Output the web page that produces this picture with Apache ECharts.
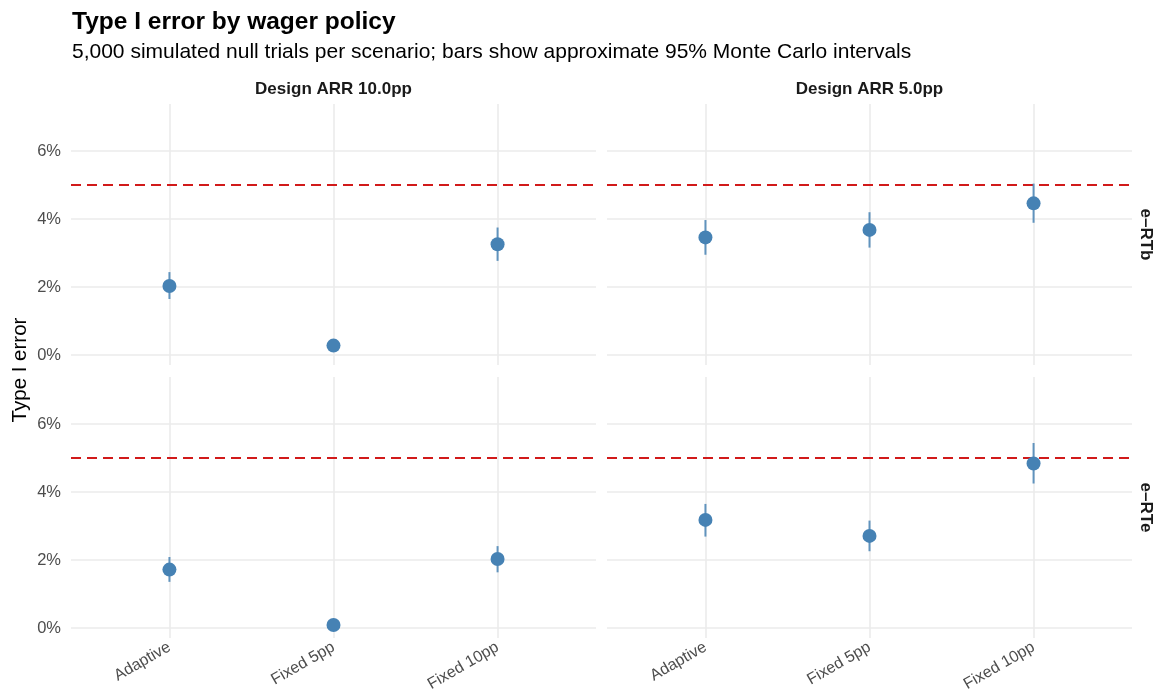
<!DOCTYPE html>
<html>
<head>
<meta charset="utf-8">
<script src="https://cdn.jsdelivr.net/npm/echarts@6/dist/echarts.min.js"></script>
<style>
  html, body { margin: 0; padding: 0; background: #fff; }
  #chart { width: 1157px; height: 700px; }
</style>
</head>
<body>
<div id="chart"></div>
<script>
const policies = ['Adaptive', 'Fixed 5pp', 'Fixed 10pp'];
const designs = ['Design ARR 10.0pp', 'Design ARR 5.0pp'];
const rules = ['e–RTb', 'e–RTe'];
const yTicks = [0, 2, 4, 6];
const alphaLevel = 5;

// type I error (%) with approx 95% MC interval, in policy order
const rtbArr10 = [2.03, 0.28, 3.26];
const rtbArr10Lo = [1.65, 0.14, 2.77];
const rtbArr10Hi = [2.44, 0.42, 3.75];
const rtbArr5 = [3.46, 3.68, 4.46];
const rtbArr5Lo = [2.95, 3.16, 3.89];
const rtbArr5Hi = [3.97, 4.20, 5.04];
const rteArr10 = [1.72, 0.09, 2.03];
const rteArr10Lo = [1.36, 0.01, 1.64];
const rteArr10Hi = [2.09, 0.17, 2.41];
const rteArr5 = [3.18, 2.71, 4.84];
const rteArr5Lo = [2.69, 2.26, 4.25];
const rteArr5Hi = [3.65, 3.16, 5.44];

const panels = [
  { est: rtbArr10, lo: rtbArr10Lo, hi: rtbArr10Hi },
  { est: rtbArr5, lo: rtbArr5Lo, hi: rtbArr5Hi },
  { est: rteArr10, lo: rteArr10Lo, hi: rteArr10Hi },
  { est: rteArr5, lo: rteArr5Lo, hi: rteArr5Hi }
];

const FONT = '"Liberation Sans", Arial, Helvetica, sans-serif';
const BLUE = '#4682B4';
const lefts = [71, 607], tops = [104, 377];
const W = 525, H = 261;

const grid = [], xAxis = [], yAxis = [], series = [];
panels.forEach((p, i) => {
  const row = Math.floor(i / 2), col = i % 2;
  grid.push({ left: lefts[col], top: tops[row], width: W, height: H });
  xAxis.push({
    type: 'value', gridIndex: i, min: 0.4, max: 3.6,
    axisLine: { show: false }, axisTick: { show: false }, splitLine: { show: false },
    axisLabel: {
      show: row === 1, customValues: [1, 2, 3], rotate: 30, margin: 8,
      formatter: v => policies[Math.round(v) - 1] || '',
      color: '#4d4d4d', fontSize: 16, fontFamily: FONT
    }
  });
  yAxis.push({
    type: 'value', gridIndex: i, min: -0.29, max: 7.38,
    axisLine: { show: false }, axisTick: { show: false }, splitLine: { show: false },
    axisLabel: {
      show: col === 0, customValues: yTicks, margin: 10,
      formatter: v => v + '%',
      color: '#4d4d4d', fontSize: 16.5, fontFamily: FONT
    }
  });
  const rows = p.est.map((v, k) => [k + 1, p.lo[k], p.hi[k], v]);
  // grid lines + error bars
  series.push({
    type: 'custom', xAxisIndex: i, yAxisIndex: i, z: 9, silent: true,
    data: rows, encode: { x: 0, y: [1, 2] },
    renderItem: (params, api) => {
      const a = api.coord([api.value(0), api.value(1)]);
      const b = api.coord([api.value(0), api.value(2)]);
      return {
        type: 'line',
        shape: { x1: a[0], y1: a[1], x2: b[0], y2: b[1] },
        style: { stroke: BLUE, lineWidth: 2, opacity: 0.85 }
      };
    },
    markLine: {
      silent: true, z: 1, symbol: ['none', 'none'], animation: false,
      label: { show: false },
      lineStyle: { color: '#ebebeb', width: 1.6, type: 'solid' },
      data: yTicks.map(t => ({ yAxis: t })).concat([1, 2, 3].map(x => ({ xAxis: x })))
    }
  });
  series.push({
    type: 'scatter', xAxisIndex: i, yAxisIndex: i, z: 10, silent: true,
    symbolSize: 14, itemStyle: { color: BLUE, opacity: 1 },
    data: rows.map(r => [r[0], r[3]]),
    markLine: {
      silent: true, z: 5, symbol: ['none', 'none'], animation: false,
      label: { show: false },
      lineStyle: { color: '#d11a1a', width: 2, type: [10, 6] },
      data: [{ yAxis: alphaLevel }]
    }
  });
});

const txt = (text, x, y, font, fill, rot) => ({
  type: 'text', x: x, y: y, rotation: rot || 0, silent: true,
  style: {
    text: text, font: font, fill: fill,
    align: 'center', verticalAlign: 'middle',
    textAlign: 'center', textVerticalAlign: 'middle'
  }
});

const graphics = [
  txt('Type I error', 20, 370, '20.5px ' + FONT, '#000', Math.PI / 2),
  txt(designs[0], lefts[0] + W / 2, 89, 'bold 17px ' + FONT, '#1a1a1a'),
  txt(designs[1], lefts[1] + W / 2, 89, 'bold 17px ' + FONT, '#1a1a1a'),
  txt(rules[0], 1146, tops[0] + H / 2, 'bold 17px ' + FONT, '#1a1a1a', -Math.PI / 2),
  txt(rules[1], 1146, tops[1] + H / 2, 'bold 17px ' + FONT, '#1a1a1a', -Math.PI / 2)
];

const chart = echarts.init(document.getElementById('chart'));
chart.setOption({
  animation: false,
  backgroundColor: '#fff',
  title: [
    { text: 'Type I error by wager policy', left: 67, top: 5,
      textStyle: { fontSize: 24.5, fontWeight: 'bold', color: '#000', fontFamily: FONT } },
    { text: '5,000 simulated null trials per scenario; bars show approximate 95% Monte Carlo intervals',
      left: 67, top: 37,
      textStyle: { fontSize: 21, fontWeight: 'normal', color: '#000', fontFamily: FONT } }
  ],
  grid: grid,
  xAxis: xAxis,
  yAxis: yAxis,
  series: series,
  graphic: graphics
});
</script>
</body>
</html>
